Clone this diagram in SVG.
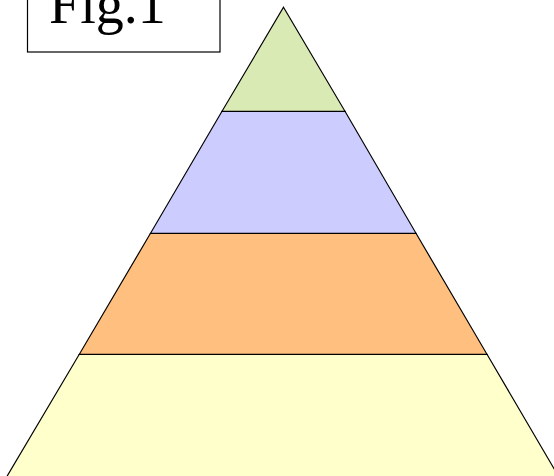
<svg xmlns="http://www.w3.org/2000/svg" width="554" height="476" viewBox="0 0 554 476">
<style>
.band{stroke:#000;stroke-width:1.2;stroke-linejoin:miter}
.lbl{font-family:"Liberation Serif","Times New Roman",serif;font-size:56px;fill:#000}
</style>
<rect width="554" height="476" fill="#fff"/>
<g id="fig-label">
<rect x="27.5" y="-20" width="192.5" height="72" fill="#fff" stroke="#000" stroke-width="1.2"/>
<text class="lbl" x="49" y="22.5">Fig.1</text>
</g>
<g id="pyramid">
<polygon id="level4" class="band" fill="#ffffcc" points="79.3,354.3 487,354.3 559.5,478 6,478"/>
<polygon id="level3" class="band" fill="#ffbf7f" points="150.5,233.3 416,233.3 487,354.3 79.3,354.3"/>
<polygon id="level2" class="band" fill="#ccccff" points="222,111.3 345,111.3 416,233.3 150.5,233.3"/>
<polygon id="level1" class="band" fill="#d9eab5" points="283.5,7.3 345,111.3 222,111.3"/>
</g>
</svg>
